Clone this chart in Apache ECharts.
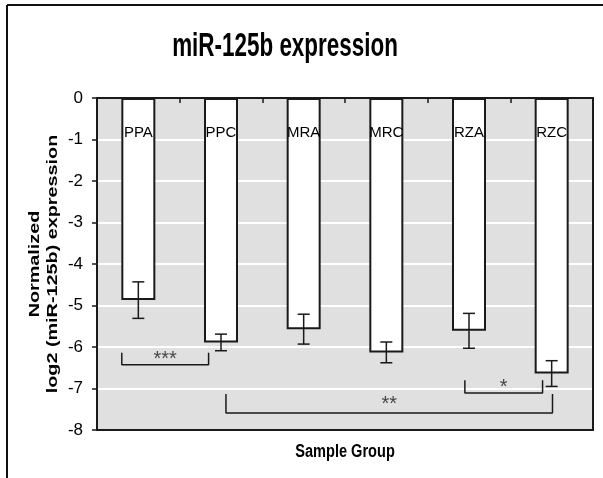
<!DOCTYPE html>
<html>
<head>
<meta charset="utf-8">
<script src="https://cdn.jsdelivr.net/npm/echarts@6/dist/echarts.min.js"></script>
<style>
  html, body { margin: 0; padding: 0; background: #fff; }
  #chart { width: 603px; height: 478px; }
</style>
</head>
<body>
<div id="chart"></div>
<script>
// groups and their mean values (log2, normalized) with error
const categories = ['PPA', 'PPC', 'MRA', 'MRC', 'RZA', 'RZC'];
const means = [-4.87, -5.89, -5.57, -6.13, -5.61, -6.64];
const errors = [0.44, 0.2, 0.36, 0.25, 0.42, 0.31];

// significance brackets (x in category units, 0..6)
const sigLabels = ['***', '**', '*'];
const sigLeft = [0.30, 1.56, 4.45];
const sigRight = [1.35, 5.51, 5.39];
const sigTop = [-6.14, -7.13, -6.80];
const sigBottom = [-6.43, -7.59, -7.11];

const font = '"Liberation Sans", Arial, sans-serif';
const ink = '#1a1a1a';

const chart = echarts.init(document.getElementById('chart'));

const bracketSeries = sigLabels.map((s, i) => ({
  type: 'line',
  xAxisIndex: 1,
  yAxisIndex: 0,
  symbol: 'none',
  silent: true,
  z: 5,
  lineStyle: { color: ink, width: 1.5 },
  data: [
    [sigLeft[i], sigTop[i]],
    [sigLeft[i], sigBottom[i]],
    [sigRight[i], sigBottom[i]],
    [sigRight[i], sigTop[i]]
  ]
}));

const option = {
  animation: false,
  graphic: [
    { type: 'line', shape: { x1: 7, y1: 5, x2: 7, y2: 478 }, style: { stroke: '#111', lineWidth: 2 } },
    { type: 'line', shape: { x1: 7, y1: 5, x2: 603, y2: 5 }, style: { stroke: '#111', lineWidth: 2 } },
    // title, squeezed to look like a condensed face
    {
      type: 'text', x: 285, y: 47, scaleX: 0.68,
      style: { text: 'miR-125b expression', fontFamily: font, fontSize: 33, fontWeight: 'bold', fill: '#000', align: 'center', verticalAlign: 'middle' }
    },
    {
      type: 'text', x: 345, y: 452, scaleX: 0.81,
      style: { text: 'Sample Group', fontFamily: font, fontSize: 18, fontWeight: 'bold', fill: '#000', align: 'center', verticalAlign: 'middle' }
    },
    {
      type: 'text', x: 44, y: 264, rotation: Math.PI / 2, scaleX: 1.32,
      style: { text: 'Normalized\nlog2 (miR-125b) expression', fontFamily: font, fontSize: 15, fontWeight: 'bold', fill: '#000', align: 'center', verticalAlign: 'middle', lineHeight: 18 }
    }
  ],
  grid: {
    left: 97,
    right: 10,
    top: 98,
    bottom: 48,
    containLabel: false,
    outerBoundsMode: 'none',
    show: true,
    backgroundColor: '#e0e0e0',
    borderColor: ink,
    borderWidth: 2
  },
  xAxis: [{
    type: 'category',
    data: categories,
    position: 'top',
    axisLine: { show: true, lineStyle: { color: ink, width: 2 } },
    axisTick: { show: true, inside: true, length: 5, lineStyle: { color: ink, width: 1.5 } },
    axisLabel: { show: false },
    splitLine: { show: false }
  }, {
    type: 'value',
    min: 0,
    max: 6,
    position: 'bottom',
    axisLine: { show: true, onZero: false, lineStyle: { color: ink, width: 2 } },
    axisTick: { show: false },
    axisLabel: { show: false },
    splitLine: { show: false }
  }],
  yAxis: [{
    type: 'value',
    min: -8,
    max: 0,
    interval: 1,
    axisLine: { show: true, lineStyle: { color: ink, width: 2 } },
    axisTick: { show: true, length: 5, lineStyle: { color: ink, width: 1.5 } },
    axisLabel: { fontFamily: font, fontSize: 17, color: '#000', margin: 14 },
    splitLine: { show: true, lineStyle: { color: '#ffffff', width: 2 } }
  }, {
    type: 'value',
    min: -8,
    max: 0,
    position: 'right',
    axisLine: { show: true, onZero: false, lineStyle: { color: ink, width: 2 } },
    axisTick: { show: false },
    axisLabel: { show: false },
    splitLine: { show: false }
  }],
  series: [{
    type: 'bar',
    data: means,
    barWidth: 34,
    itemStyle: { color: '#ffffff', borderColor: ink, borderWidth: 2 },
    label: {
      show: true,
      position: 'insideTop',
      distance: 27,
      formatter: p => categories[p.dataIndex],
      fontFamily: font,
      fontSize: 15,
      color: '#000'
    }
  }, {
    type: 'custom',
    z: 6,
    data: means.map((m, i) => [i, m, errors[i]]),
    renderItem: (params, api) => {
      const x = api.value(0);
      const m = api.value(1);
      const e = api.value(2);
      const hi = api.coord([x, m + e]);
      const lo = api.coord([x, m - e]);
      const half = 6;
      const style = { stroke: ink, lineWidth: 1.5 };
      return {
        type: 'group',
        children: [
          { type: 'line', shape: { x1: hi[0], y1: hi[1], x2: lo[0], y2: lo[1] }, style },
          { type: 'line', shape: { x1: hi[0] - half, y1: hi[1], x2: hi[0] + half, y2: hi[1] }, style },
          { type: 'line', shape: { x1: lo[0] - half, y1: lo[1], x2: lo[0] + half, y2: lo[1] }, style }
        ]
      };
    }
  },
  ...bracketSeries,
  {
    type: 'scatter',
    xAxisIndex: 1,
    yAxisIndex: 0,
    symbolSize: 0,
    silent: true,
    z: 6,
    data: sigLabels.map((s, i) => [(sigLeft[i] + sigRight[i]) / 2, (sigTop[i] + sigBottom[i]) / 2]),
    label: {
      show: true,
      position: 'inside',
      offset: [0, 1],
      formatter: p => sigLabels[p.dataIndex],
      fontFamily: font,
      fontSize: 20,
      color: ink
    }
  }]
};

chart.setOption(option);
</script>
</body>
</html>
